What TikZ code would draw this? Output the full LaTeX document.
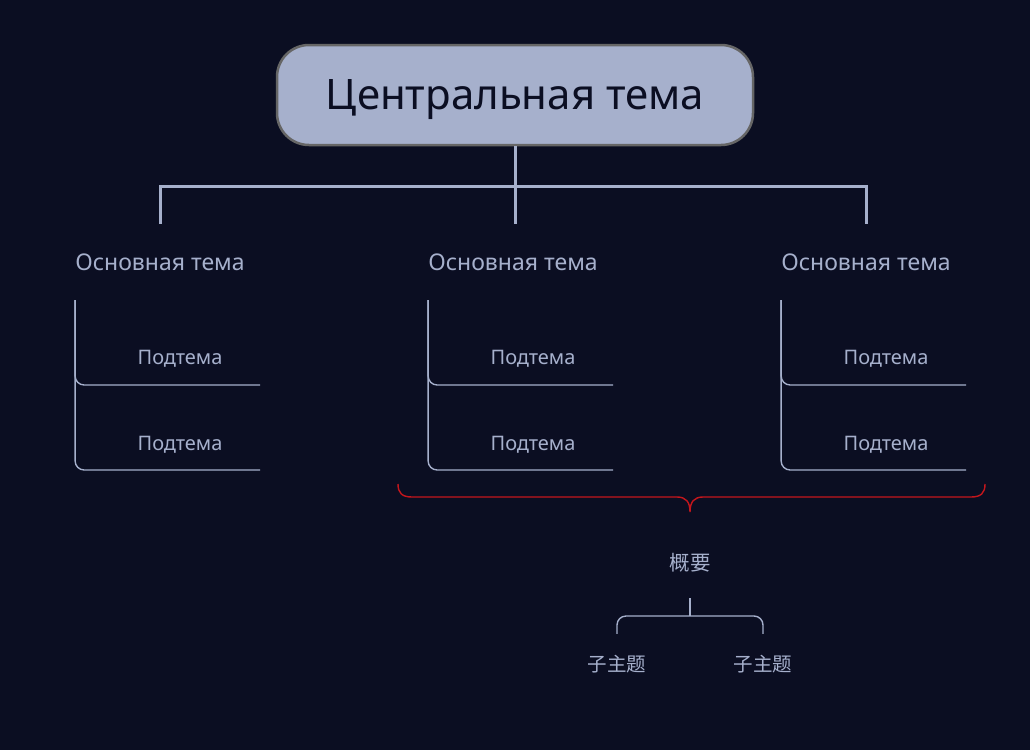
\documentclass[tikz,border=0pt]{standalone}
\usepackage{fontspec}
\setmainfont{Noto Sans}
\newfontfamily\cjk{Noto Sans CJK SC}
\definecolor{bgc}{HTML}{0B0E22}
\definecolor{linec}{HTML}{A6B0CC}
\definecolor{bordc}{HTML}{666666}
\definecolor{redc}{HTML}{C4161C}
\begin{document}
\begin{tikzpicture}[x=1pt,y=-1pt,
  central/.style={draw=bordc,line width=2.5pt,fill=linec,rounded corners=32pt,
    minimum width=476pt,minimum height=100pt,text=bgc,text depth=0pt,font=\fontsize{42}{46}\selectfont},
  maintopic/.style={inner sep=0pt,minimum height=76pt,text=linec,font=\fontsize{23}{27}\selectfont},
  subtopic/.style={inner sep=0pt,text=linec,font=\fontsize{20}{24}\selectfont},
  summ/.style={inner sep=0pt,minimum height=70pt,text=linec,font=\cjk\fontsize{20.5}{24}\selectfont},
  subsumm/.style={inner sep=0pt,minimum height=60pt,text=linec,font=\cjk\fontsize{19.5}{23}\selectfont},
  mainline/.style={draw=linec,line width=3pt},
  subline/.style={draw=linec,line width=1.4pt,rounded corners=9pt},
  bracec/.style={draw=redc,line width=1.4pt}]
\fill[bgc] (0,0) rectangle (1030,750);
\useasboundingbox (0,0) rectangle (1030,750);

\node[central] (c) at (515,95) {Центральная тема};
\coordinate (j) at (515,186);

\node[maintopic] (m1) at (160,262) {Основная тема};
\node[maintopic] (m2) at (513,262) {Основная тема};
\node[maintopic] (m3) at (866,262) {Основная тема};

\draw[mainline] (c.south) -- (c.south |- m2.north);
\draw[mainline] (m1.north) |- (j) -| (m3.north);

% subtopics
\node[subtopic] (s11) at (180,359) {Подтема};
\node[subtopic] (s12) at (180,445) {Подтема};
\node[subtopic] (s21) at (533,359) {Подтема};
\node[subtopic] (s22) at (533,445) {Подтема};
\node[subtopic] (s31) at (886,359) {Подтема};
\node[subtopic] (s32) at (886,445) {Подтема};

\coordinate (e11) at (260,385);
\coordinate (e12) at (260,470);
\coordinate (e21) at (613,385);
\coordinate (e22) at (613,470);
\coordinate (e31) at (966,385);
\coordinate (e32) at (966,470);

\draw[subline] (m1.south west) |- (e11);
\draw[subline] (m1.south west) |- (e12);
\draw[subline] (m2.south west) |- (e21);
\draw[subline] (m2.south west) |- (e22);
\draw[subline] (m3.south west) |- (e31);
\draw[subline] (m3.south west) |- (e32);

% summary brace
\coordinate (bl) at (398,484);
\coordinate (br) at (985,484);
\coordinate (bt) at (690,512);
\draw[bracec] (bl) .. controls (398,493) and (402,497) .. (412,497) -- (677,497)
  .. controls (686,497) and (690,502) .. (bt)
  .. controls (690,502) and (694,497) .. (703,497) -- (971,497)
  .. controls (981,497) and (985,493) .. (br);

\node[summ] (g) at (690,563) {概要};
\node[subsumm] (z1) at (617,664) {子主题};
\node[subsumm] (z2) at (763,664) {子主题};
\coordinate (gj) at (690,616);

\draw[subline] (g.south) -- (gj);
\draw[subline] (z1.north) |- (gj) -| (z2.north);
\end{tikzpicture}
\end{document}
